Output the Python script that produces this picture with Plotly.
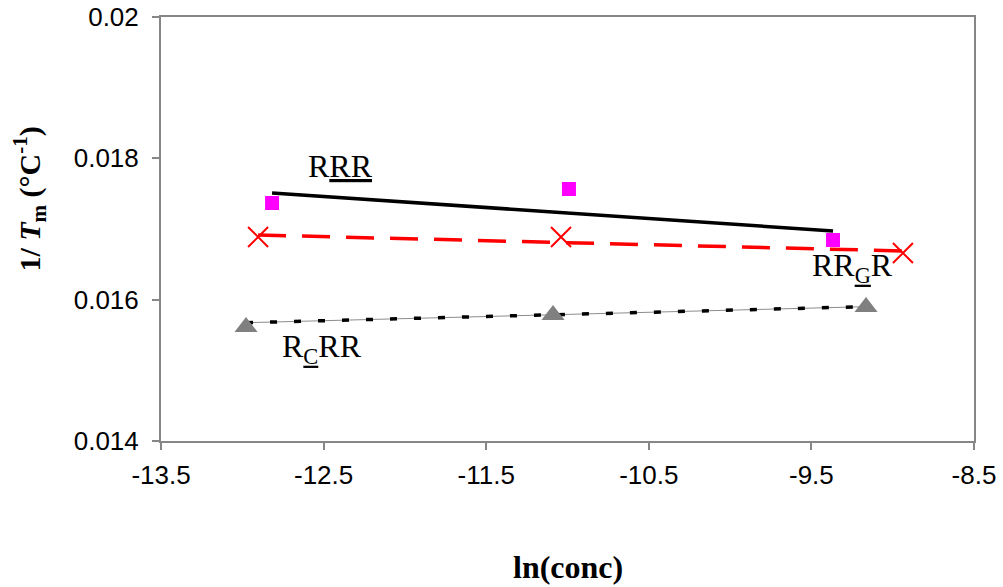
import plotly.graph_objects as go

# ---- data ----
rrr_x = [-12.817, -10.991, -9.367]
rrr_y = [0.017368, 0.017566, 0.016844]
rrr_fit_x = [-12.817, -9.367]
rrr_fit_y = [0.017509, 0.016972]

rrgr_x = [-12.903, -11.040, -8.937]
rrgr_y = [0.016887, 0.016887, 0.016660]
rrgr_fit_x = [-12.903, -8.937]
rrgr_fit_y = [0.016915, 0.016689]

rcrr_x = [-12.977, -11.089, -9.164]
rcrr_y = [0.015613, 0.015783, 0.015896]
rcrr_fit_x = [-12.977, -9.164]
rcrr_fit_y = [0.015674, 0.015901]

x_ticks = [-13.5, -12.5, -11.5, -10.5, -9.5, -8.5]
x_ticktext = ["-13.5", "-12.5", "-11.5", "-10.5", "-9.5", "-8.5"]
y_ticks = [0.014, 0.016, 0.018, 0.020]
y_ticktext = ["0.014", "0.016", "0.018", "0.02"]

AXIS = "#868686"
SERIF = "Liberation Serif, Times New Roman, serif"
SANS = "Liberation Sans, Arial, Helvetica, sans-serif"

fig = go.Figure()

# RCRR: thin grey line with dotted black overlay
fig.add_trace(go.Scatter(x=rcrr_fit_x, y=rcrr_fit_y, mode="lines",
                         line=dict(color="#8c8c8c", width=1), showlegend=False))
fig.add_trace(go.Scatter(x=rcrr_fit_x, y=rcrr_fit_y, mode="lines",
                         line=dict(color="black", width=3.5, dash="7px,17px"), showlegend=False))
fig.add_trace(go.Scatter(x=rcrr_x, y=rcrr_y, mode="markers",
                         marker=dict(symbol="triangle-up", size=20, color="#808080"),
                         showlegend=False))

# RRGR: red dashed fit, red x markers
fig.add_trace(go.Scatter(x=rrgr_fit_x, y=rrgr_fit_y, mode="lines",
                         line=dict(color="#ff0000", width=3.5, dash="28px,16px"), showlegend=False))
fig.add_trace(go.Scatter(x=rrgr_x, y=rrgr_y, mode="markers",
                         marker=dict(symbol="x-thin", size=20, color="#ff0000",
                                     line=dict(color="#ff0000", width=2)),
                         showlegend=False))

# RRR: black solid fit, magenta squares
fig.add_trace(go.Scatter(x=rrr_fit_x, y=rrr_fit_y, mode="lines",
                         line=dict(color="black", width=3.5), showlegend=False))
fig.add_trace(go.Scatter(x=rrr_x, y=rrr_y, mode="markers",
                         marker=dict(symbol="square", size=14, color="#ff00ff"),
                         showlegend=False))

annots = [
    dict(x=-12.399, y=0.017892, text="R<u>RR</u>"),
    dict(x=-9.25, y=0.016450, text="RR<sub><u>G</u></sub>R"),
    dict(x=-12.51, y=0.015315, text="R<sub><u>C</u></sub>RR"),
]
for a in annots:
    fig.add_annotation(x=a["x"], y=a["y"], xref="x", yref="y", text=a["text"],
                       showarrow=False, xanchor="center", yanchor="middle",
                       font=dict(family=SERIF, size=32, color="black"))

# axis titles
fig.add_annotation(text="<b>1/ <i>T</i><sub>m</sub> (°C<sup>-1</sup>)</b>",
                   xref="paper", yref="paper", x=-0.162, y=0.57,
                   xanchor="center", yanchor="middle", textangle=-90, showarrow=False,
                   font=dict(family=SERIF, size=30, color="black"))
fig.add_annotation(text="<b>ln(conc)</b>", xref="paper", yref="paper",
                   x=0.5, y=-0.297, xanchor="center", yanchor="middle", showarrow=False,
                   font=dict(family=SERIF, size=32, color="black"))

fig.update_xaxes(range=[-13.5, -8.5], tickvals=x_ticks, ticktext=x_ticktext,
                 showgrid=False, zeroline=False, showline=True, linecolor=AXIS,
                 linewidth=2, mirror=True, ticks="outside", ticklen=7, tickwidth=1.5,
                 tickcolor=AXIS, tickfont=dict(family=SANS, size=26, color="black"),
                 ticklabelstandoff=3, automargin=False)
fig.update_yaxes(range=[0.014, 0.020], tickvals=y_ticks, ticktext=y_ticktext,
                 showgrid=False, zeroline=False, showline=True, linecolor=AXIS,
                 linewidth=2, mirror=True, ticks="outside", ticklen=7, tickwidth=1.5,
                 tickcolor=AXIS, tickfont=dict(family=SANS, size=26, color="black"),
                 ticklabelstandoff=8, automargin=False)

fig.update_layout(width=1003, height=587, plot_bgcolor="white", paper_bgcolor="white",
                  margin=dict(l=161, r=29, t=17, b=146), showlegend=False)

fig.write_html("out.html", config={"displayModeBar": False},
               post_script="document.body.style.margin='0';document.body.style.overflow='hidden';")
